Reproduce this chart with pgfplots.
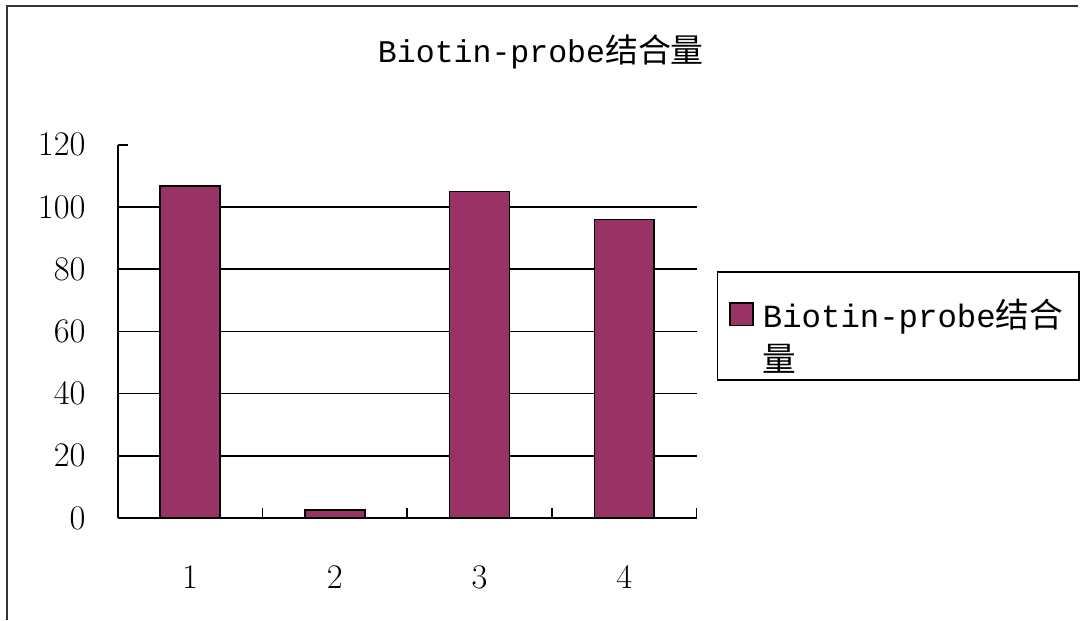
\documentclass[border=0pt]{standalone}
\usepackage{fontspec}
\usepackage{pgfplots}
\pgfplotsset{compat=1.18}
\newfontfamily\cjk{Noto Sans CJK SC}
\newfontfamily\mono{Liberation Mono}
\definecolor{barcol}{RGB}{153,51,102}
\begin{document}
\begin{tikzpicture}[x=1pt,y=1pt]
\path (0,0) rectangle (540,310.5);
% outer frame (left and top edges visible)
\draw[line width=1pt,black!80] (3.5,0) -- (3.5,307.5) -- (540,307.5);
\node[anchor=base] at (271,279) {\fontsize{15.8}{22}\selectfont{\mono Biotin-probe}{\cjk\fontsize{16.5}{22}\selectfont 结合量}};
\begin{axis}[
  at={(59pt,51pt)}, anchor=origin,
  scale only axis, width=290pt, height=187pt,
  xmin=0.5, xmax=4.5, ymin=0, ymax=120,
  axis x line*=bottom, axis y line*=left,
  axis line style={-, line width=0.8pt, black},
  xtick={1,2,3,4}, major x tick style={draw=none},
  extra x ticks={1.5,2.5,3.5,4.5}, extra x tick labels={},
  extra x tick style={major x tick style={draw=black, line width=0.8pt}, xtick align=inside},
  major tick length=5pt,
  tick align=inside,
  tick style={line width=0.8pt, black},
  ytick={0,20,...,120},
  tick label style={font=\fontsize{19}{22}\selectfont},
  yticklabel style={anchor=east, inner sep=0pt, xshift=-16pt},
  xticklabel style={anchor=north, inner sep=0pt, yshift=-19pt},
  ybar, bar width=30pt,
  clip=false,
  legend style={at={(axis description cs:1.0345,0.6604)}, anchor=north west,
    draw=black, line width=0.8pt, inner xsep=6pt, inner ysep=2pt,
    font=\fontsize{16.2}{22}\selectfont,
    nodes={inner xsep=2pt, inner ysep=1pt, align=left},
    /tikz/every odd column/.append style={column sep=2.5pt}},
  legend cell align=left,
  legend image code/.code={\draw[#1, line width=0.8pt] (1.5pt,0.25pt) rectangle (13pt,11.75pt);},
]
\pgfplotsinvokeforeach{20,40,60,80,100}{
  \draw[black, line width=0.8pt] (axis cs:0.5,#1) -- (axis cs:4.5,#1);
}
\addplot[fill=barcol, draw=black, line width=0.8pt] coordinates {(1,106.7) (2,2.5) (3,105) (4,96)};
\addlegendentry{\rule{0pt}{24.5pt}{\mono Biotin-probe}{\cjk\fontsize{16.9}{22}\selectfont 结合}\\{\cjk\fontsize{16.9}{22}\selectfont 量}}
\end{axis}
\end{tikzpicture}
\end{document}
